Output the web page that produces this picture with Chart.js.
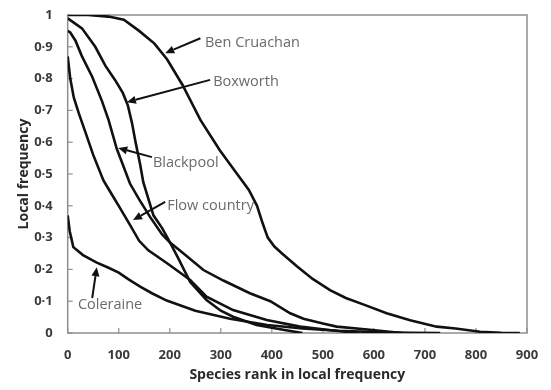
<!DOCTYPE html>
<html>
<head>
<meta charset="utf-8">
<script src="https://cdn.jsdelivr.net/npm/chart.js@4.4.1/dist/chart.umd.min.js"></script>
<style>
html,body{margin:0;padding:0;background:#fff;}
#c{display:block;}
</style>
</head>
<body>
<canvas id="c" width="551" height="390"></canvas>
<script>
// ---- Data ----
const xTickLabels = ['0','100','200','300','400','500','600','700','800','900'];
const yTickLabels = ['0','0·1','0·2','0·3','0·4','0·5','0·6','0·7','0·8','0·9','1'];

const benCruachanRank = [0,40,80,110,140,170,195,225,260,298,332,355,371,382,392,405,420,449,480,514,545,579,625,671,723,760,808,850,886];
const benCruachanFreq = [1.0,1.0,0.995,0.985,0.95,0.91,0.86,0.78,0.67,0.575,0.50,0.45,0.40,0.345,0.30,0.272,0.25,0.21,0.17,0.135,0.11,0.09,0.062,0.04,0.02,0.014,0.004,0.001,0];

const boxworthRank = [0,5,28,54,74,93,108,118,126,133,142,148,168,185,197,215,240,272,300,324,370,422,460];
const boxworthFreq = [0.99,0.984,0.958,0.90,0.84,0.795,0.755,0.715,0.66,0.60,0.53,0.475,0.37,0.33,0.295,0.24,0.16,0.104,0.07,0.051,0.025,0.01,0];

const blackpoolRank = [0,5,15,28,48,67,80,96,122,140,161,185,200,227,266,305,357,397,436,462,500,527,592,655];
const blackpoolFreq = [0.95,0.945,0.92,0.87,0.806,0.73,0.67,0.58,0.47,0.42,0.366,0.31,0.285,0.25,0.198,0.165,0.125,0.10,0.062,0.045,0.03,0.02,0.01,0];

const flowCountryRank = [0,5,12,22,35,50,70,83,100,122,140,158,194,240,272,324,390,455,520,570];
const flowCountryFreq = [0.87,0.80,0.74,0.69,0.63,0.56,0.48,0.445,0.40,0.34,0.29,0.26,0.22,0.167,0.114,0.072,0.041,0.02,0.008,0];

const coleraineRank = [0,4,11,30,56,80,100,120,142,165,194,250,318,391,460,530,600,670,730];
const coleraineFreq = [0.37,0.32,0.27,0.245,0.222,0.205,0.19,0.168,0.146,0.125,0.102,0.07,0.045,0.025,0.014,0.007,0.003,0.001,0];

// Annotation labels with arrows (in data units)
const labelNames  = ['Ben Cruachan','Boxworth','Blackpool','Flow country','Coleraine'];
const labelPosX   = [269, 285, 167, 195, 20];
const labelPosY   = [0.912, 0.79, 0.535, 0.40, 0.088];
const arrowTailX  = [260, 279, 165, 191, 48];
const arrowTailY  = [0.927, 0.796, 0.553, 0.412, 0.11];
const arrowTipX   = [191, 116, 99, 128, 57];
const arrowTipY   = [0.88, 0.726, 0.582, 0.355, 0.207];

function pts(xs, ys){ return xs.map((x,i)=>({x:x, y:ys[i]})); }

const seriesList = [
  {label:'Ben Cruachan', data:pts(benCruachanRank, benCruachanFreq)},
  {label:'Boxworth', data:pts(boxworthRank, boxworthFreq)},
  {label:'Blackpool', data:pts(blackpoolRank, blackpoolFreq)},
  {label:'Flow country', data:pts(flowCountryRank, flowCountryFreq)},
  {label:'Coleraine', data:pts(coleraineRank, coleraineFreq)}
];

const FONT = '"Open Sans", "Liberation Sans", sans-serif';

const decorPlugin = {
  id: 'decor',
  beforeDatasetsDraw(chart){
    const {ctx, chartArea:a, scales} = chart;
    ctx.save();
    ctx.strokeStyle = '#8f8f8f';
    ctx.lineWidth = 1.5;
    ctx.strokeRect(a.left, a.top, a.right - a.left, a.bottom - a.top);
    // inside tick marks
    ctx.lineWidth = 1.2;
    scales.x.ticks.forEach(t => {
      const px = scales.x.getPixelForValue(t.value);
      ctx.beginPath(); ctx.moveTo(px, a.bottom); ctx.lineTo(px, a.bottom - 5); ctx.stroke();
    });
    scales.y.ticks.forEach(t => {
      const py = scales.y.getPixelForValue(t.value);
      ctx.beginPath(); ctx.moveTo(a.left, py); ctx.lineTo(a.left + 5, py); ctx.stroke();
    });
    ctx.restore();
  },
  afterDatasetsDraw(chart){
    const {ctx, scales} = chart;
    ctx.save();
    for (let i = 0; i < labelNames.length; i++){
      const tx = scales.x.getPixelForValue(arrowTailX[i]);
      const ty = scales.y.getPixelForValue(arrowTailY[i]);
      const hx = scales.x.getPixelForValue(arrowTipX[i]);
      const hy = scales.y.getPixelForValue(arrowTipY[i]);
      const ang = Math.atan2(hy - ty, hx - tx);
      const headLen = 9, headW = 4;
      const bx = hx - headLen * Math.cos(ang), by = hy - headLen * Math.sin(ang);
      ctx.strokeStyle = '#111';
      ctx.fillStyle = '#111';
      ctx.lineWidth = 2;
      ctx.beginPath(); ctx.moveTo(tx, ty); ctx.lineTo(bx, by); ctx.stroke();
      ctx.beginPath();
      ctx.moveTo(hx, hy);
      ctx.lineTo(bx + headW * Math.sin(ang), by - headW * Math.cos(ang));
      ctx.lineTo(bx - headW * Math.sin(ang), by + headW * Math.cos(ang));
      ctx.closePath(); ctx.fill();
      // label text
      ctx.fillStyle = '#6a6a6a';
      ctx.font = '14.5px ' + FONT;
      ctx.textAlign = 'left';
      ctx.textBaseline = 'middle';
      ctx.fillText(labelNames[i], scales.x.getPixelForValue(labelPosX[i]), scales.y.getPixelForValue(labelPosY[i]));
    }
    ctx.restore();
  }
};

new Chart(document.getElementById('c'), {
  type: 'line',
  data: {
    datasets: seriesList.map(s => ({
      label: s.label,
      data: s.data,
      borderColor: '#111',
      borderWidth: 2.6,
      pointRadius: 0,
      tension: 0,
      fill: false
    }))
  },
  options: {
    responsive: false,
    animation: false,
    devicePixelRatio: 1,
    layout: {padding: {left: 12, right: 24, top: 15, bottom: 3}},
    plugins: {legend: {display: false}, tooltip: {enabled: false}},
    scales: {
      x: {
        type: 'linear', min: 0, max: 900,
        grid: {display: false},
        border: {display: false},
        afterFit: s => { s.height = 54; },
        ticks: {
          stepSize: 100, padding: 6,
          color: '#3a3a3a',
          font: {family: FONT, size: 13, weight: 'bold'},
          callback: (v) => xTickLabels[Math.round(v/100)]
        },
        title: {display: true, text: 'Species rank in local frequency', color: '#2a2a2a',
                font: {family: FONT, size: 14, weight: 'bold'}}
      },
      y: {
        type: 'linear', min: 0, max: 1,
        grid: {display: false},
        border: {display: false},
        afterFit: s => { s.width = 55.7; },
        ticks: {
          stepSize: 0.1, padding: 7,
          color: '#3a3a3a',
          font: {family: FONT, size: 13, weight: 'bold'},
          callback: (v) => yTickLabels[Math.round(v*10)]
        },
        title: {display: true, text: 'Local frequency', color: '#2a2a2a',
                font: {family: FONT, size: 14, weight: 'bold'}}
      }
    }
  },
  plugins: [decorPlugin]
});
</script>
</body>
</html>
